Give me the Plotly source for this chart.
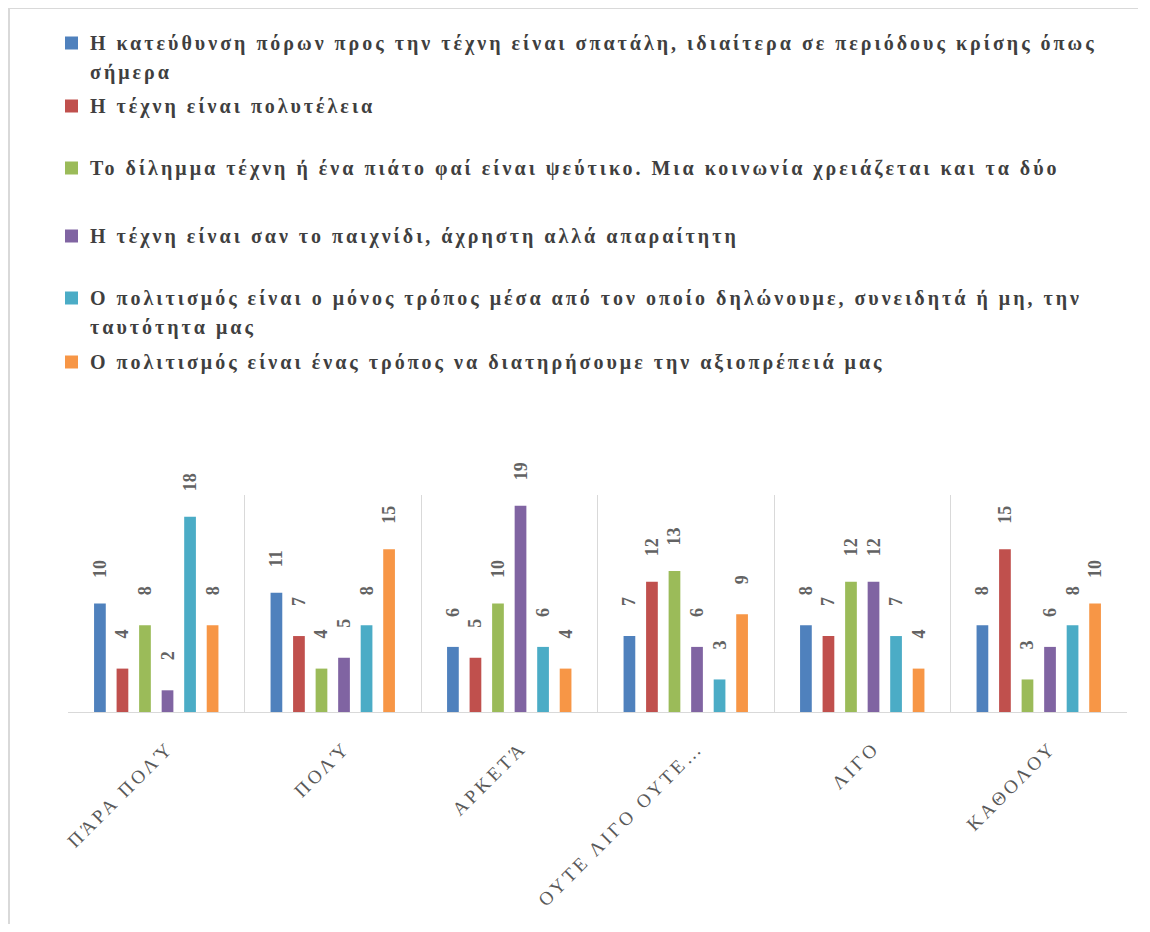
import plotly.graph_objects as go

# ---- data ----
categories = ["ΠΑ\u0301ΡΑ ΠΟΛΥ\u0301", "ΠΟΛΥ\u0301", "ΑΡΚΕΤΑ\u0301", "ΟΥΤΕ ΛΙΓΟ ΟΥΤΕ…", "ΛΙΓΟ", "ΚΑΘΟΛΟΥ"]

series_names = [
    "Η κατεύθυνση πόρων προς την τέχνη είναι σπατάλη, ιδιαίτερα σε περιόδους κρίσης όπως<br>σήμερα",
    "Η τέχνη είναι πολυτέλεια",
    "Το δίλημμα τέχνη ή ένα πιάτο φαί είναι ψεύτικο. Μια κοινωνία χρειάζεται και τα δύο",
    "Η τέχνη είναι σαν το παιχνίδι, άχρηστη αλλά απαραίτητη",
    "Ο πολιτισμός είναι ο μόνος τρόπος μέσα από τον οποίο δηλώνουμε, συνειδητά ή μη, την<br>ταυτότητα μας",
    "Ο πολιτισμός είναι ένας τρόπος να διατηρήσουμε την αξιοπρέπειά μας",
]

s1 = [10, 11, 6, 7, 8, 8]
s2 = [4, 7, 5, 12, 7, 15]
s3 = [8, 4, 10, 13, 12, 3]
s4 = [2, 5, 19, 6, 12, 6]
s5 = [18, 8, 6, 3, 7, 8]
s6 = [8, 15, 4, 9, 4, 10]
series_values = [s1, s2, s3, s4, s5, s6]

colors = ["#4F81BD", "#C0504D", "#9BBB59", "#8064A2", "#4BACC6", "#F79646"]

# ---- layout geometry (page pixels; the page body has an 8px margin) ----
OFF = 8
W, H = 1150 - 2 * OFF, 932 - 2 * OFF
PLOT_L, PLOT_R, PLOT_T, PLOT_B = 68, 1127, 495, 712   # in page pixels
ML = PLOT_L - OFF
MT = PLOT_T - OFF
MR = (W + OFF) - PLOT_R
MB = (H + OFF) - PLOT_B
PW = PLOT_R - PLOT_L
PH = PLOT_B - PLOT_T

def px(xp):
    return (xp - PLOT_L) / PW

def py(yp):
    return (PLOT_B - yp) / PH

SERIF = "Liberation Serif, Times New Roman, serif"
NB = "\u00a0"

fig = go.Figure()
for name, vals, col in zip(series_names, series_values, colors):
    texts = [(NB * (6 if v < 10 else 5)) + str(v) for v in vals]
    fig.add_trace(go.Bar(
        x=categories, y=vals, name=name.replace("<br>", " "),
        marker=dict(color=col, line=dict(width=0)),
        text=texts, textposition="outside", textangle=-90,
        constraintext="none", cliponaxis=False,
        textfont=dict(family=SERIF, size=18, color="#636363", weight="bold"),
        showlegend=False, hoverinfo="skip",
    ))

# legend drawn as text annotations with coloured squares
first_line_y = [43, 106, 168, 236, 298, 362]
line_gap = 29
annotations = []
shapes = []
for name, col, y0 in zip(series_names, colors, first_line_y):
    for j, line in enumerate(name.split("<br>")):
        annotations.append(dict(
            x=px(88), y=py(y0 + j * line_gap), xref="paper", yref="paper",
            text=line, showarrow=False, xanchor="left", yanchor="middle", align="left",
            font=dict(family=SERIF, size=20, color="#3F3F3F", weight="bold"),
        ))
    shapes.append(dict(
        type="rect", xref="paper", yref="paper",
        x0=px(65), x1=px(78), y0=py(y0 + 6.5), y1=py(y0 - 6.5),
        fillcolor=col, line=dict(width=0),
    ))

# chart area border (only the left and top edges are visible in the frame)
border = dict(color="#D9D9D9", width=2)
shapes.append(dict(type="line", xref="paper", yref="paper",
                   x0=px(9), x1=px(9), y0=py(8), y1=py(990), line=border, layer="below"))
shapes.append(dict(type="line", xref="paper", yref="paper",
                   x0=px(9), x1=px(1138), y0=py(8), y1=py(8), line=border, layer="below"))

fig.update_layout(
    width=W, height=H,
    margin=dict(l=ML, r=MR, t=MT, b=MB, pad=0),
    paper_bgcolor="white", plot_bgcolor="white",
    barmode="group", bargap=0.234, bargroupgap=0.48,
    showlegend=False,
    annotations=annotations, shapes=shapes,
    xaxis=dict(
        type="category", tickson="boundaries", showgrid=True,
        gridcolor="#D9D9D9", gridwidth=1, showline=True, linecolor="#D9D9D9",
        linewidth=1, ticks="", tickangle=-45, ticklabelstandoff=16,
        ticklabelshift=12,
        tickfont=dict(family=SERIF, size=19, color="#595959"),
        mirror=False, zeroline=False,
    ),
    yaxis=dict(range=[0, 20], showgrid=False, showticklabels=False,
               zeroline=False, showline=False, ticks=""),
)

# the reference typesetting is widely letter-spaced
post_js = """
var gd = document.getElementById('{plot_id}');
gd.querySelectorAll('.annotation-text').forEach(function(t){ t.style.letterSpacing = '3px'; });
gd.querySelectorAll('.xtick text').forEach(function(t){ t.style.letterSpacing = '3.5px'; });
"""

fig.write_html("out.html", post_script=post_js)
